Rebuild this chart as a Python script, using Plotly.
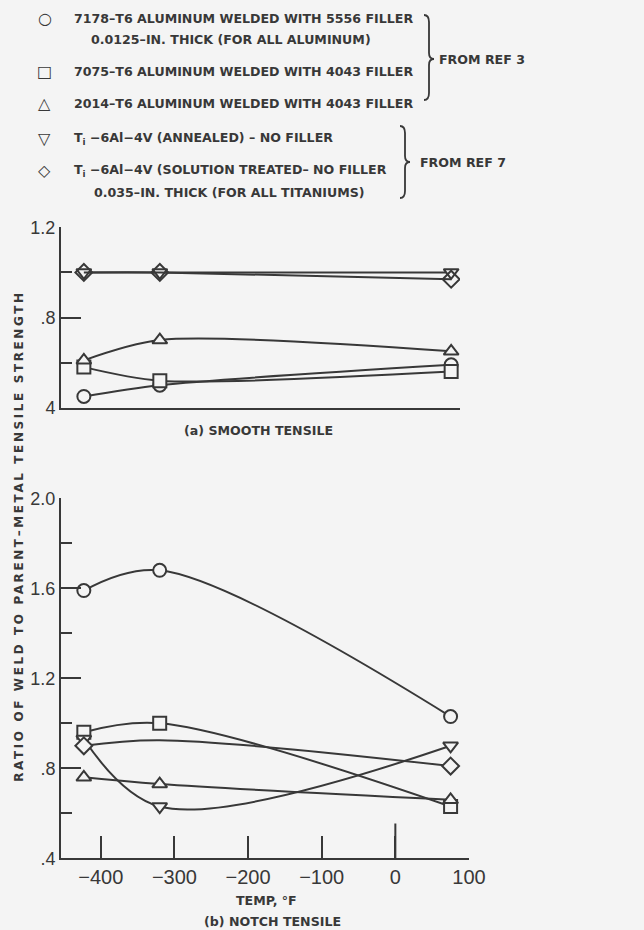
import plotly.graph_objects as go
from plotly.subplots import make_subplots

# ---------------- data ----------------
temps_f = [-423, -320, 75]

series_names = [
    "7178-T6 aluminum / 5556 filler",
    "7075-T6 aluminum / 4043 filler",
    "2014-T6 aluminum / 4043 filler",
    "Ti-6Al-4V annealed",
    "Ti-6Al-4V solution treated",
]
smooth_circle = [0.45, 0.50, 0.59]
smooth_square = [0.58, 0.52, 0.56]
smooth_tri_up = [0.61, 0.70, 0.65]
smooth_tri_down = [1.00, 1.00, 1.00]
smooth_diamond = [1.00, 1.00, 0.97]

notch_circle = [1.59, 1.68, 1.03]
notch_square = [0.96, 1.00, 0.63]
notch_tri_up = [0.76, 0.73, 0.66]
notch_tri_down = [0.93, 0.63, 0.90]
notch_diamond = [0.90, 0.925, 0.81]   # faired curve value at -320 (no test point there)
notch_diamond_points = [0.90, None, 0.81]

top_yticks = [0.4, 0.8, 1.2]
top_yticktext = ["4", ".8", "1.2"]
bot_yticks = [0.4, 0.8, 1.2, 1.6, 2.0]
bot_yticktext = [".4", ".8", "1.2", "1.6", "2.0"]
minor_top = [0.6, 1.0]
minor_bot = [0.6, 1.0, 1.4, 1.8]
xticks = [-400, -300, -200, -100, 0, 100]
xticktext = ["\u2212400", "\u2212300", "\u2212200", "\u2212100", "0", "100"]

# ---------------- style ----------------
W, H = 644, 930
BG = "#f4f4f4"
INK = "#383838"
symbols = ["circle", "square", "triangle-up", "triangle-down", "diamond"]
fills = [BG, BG, BG, BG, "rgba(0,0,0,0)"]

def px(x):
    return x / W

def py(y):
    return 1 - y / H

fig = make_subplots(rows=2, cols=1)

smooth = [smooth_circle, smooth_square, smooth_tri_up, smooth_tri_down, smooth_diamond]
notch = [notch_circle, notch_square, notch_tri_up, notch_tri_down, notch_diamond]

for name, sym, fc, ys in zip(series_names, symbols, fills, smooth):
    fig.add_trace(go.Scatter(
        x=temps_f, y=ys, mode="lines+markers", name=name,
        line=dict(color=INK, width=2, shape="spline", smoothing=0.8),
        marker=dict(symbol=sym, size=13, color=fc, line=dict(color=INK, width=2)),
        showlegend=False), row=1, col=1)

for i, (name, sym, fc, ys) in enumerate(zip(series_names, symbols, fills, notch)):
    if i == 4:
        fig.add_trace(go.Scatter(
            x=temps_f, y=ys, mode="lines", name=name,
            line=dict(color=INK, width=2, shape="spline", smoothing=1.0),
            showlegend=False), row=2, col=1)
        fig.add_trace(go.Scatter(
            x=temps_f, y=notch_diamond_points, mode="markers", name=name,
            marker=dict(symbol=sym, size=13, color=BG, line=dict(color=INK, width=2)),
            showlegend=False), row=2, col=1)
    else:
        fig.add_trace(go.Scatter(
            x=temps_f, y=ys, mode="lines+markers", name=name,
            line=dict(color=INK, width=2, shape="spline", smoothing=1.0),
            marker=dict(symbol=sym, size=13, color=fc, line=dict(color=INK, width=2)),
            showlegend=False), row=2, col=1)

yfont = dict(family="Liberation Sans", size=18, color=INK)
xfont = dict(family="Liberation Sans", size=20, color=INK)

fig.update_layout(
    width=W, height=H, template="none",
    paper_bgcolor=BG, plot_bgcolor=BG,
    margin=dict(l=0, r=0, t=0, b=0),
    showlegend=False,
    xaxis=dict(domain=[px(61), px(460)], range=[-454, 87], showline=True, linecolor=INK,
               linewidth=2, showgrid=False, zeroline=False, ticks="", showticklabels=False,
               automargin=False),
    yaxis=dict(domain=[py(407.7), py(227.3)], range=[0.4, 1.2], showline=True, linecolor=INK,
               linewidth=2, showgrid=False, zeroline=False, ticks="inside", ticklen=20,
               tickwidth=2, tickcolor=INK, tickvals=top_yticks, ticktext=top_yticktext,
               tickfont=yfont, automargin=False,
               minor=dict(tickvals=minor_top, ticks="inside", ticklen=11, tickwidth=2,
                          tickcolor=INK, showgrid=False)),
    xaxis2=dict(domain=[px(61), px(469)], range=[-454, 100], showline=True, linecolor=INK,
                linewidth=2, showgrid=False, zeroline=False, ticks="inside", ticklen=22,
                tickwidth=2, tickcolor=INK, tickvals=xticks, ticktext=xticktext,
                tickfont=xfont, automargin=False, ticklabelstandoff=0),
    yaxis2=dict(domain=[py(858.3), py(498.3)], range=[0.4, 2.0], showline=True, linecolor=INK,
                linewidth=2, showgrid=False, zeroline=False, ticks="inside", ticklen=20,
                tickwidth=2, tickcolor=INK, tickvals=bot_yticks, ticktext=bot_yticktext,
                tickfont=yfont, automargin=False,
                minor=dict(tickvals=minor_bot, ticks="inside", ticklen=11, tickwidth=2,
                           tickcolor=INK, showgrid=False)),
)

# longer tick at 0 deg F
fig.add_shape(type="line", xref="x2", yref="y2", x0=0, x1=0, y0=0.4, y1=0.555,
              line=dict(color=INK, width=2))

# ---------------- text ----------------
def txt(x, y, s, size=12.6, xanchor="left", bold=True):
    f = dict(family="DejaVu Sans", size=size, color=INK, weight="bold" if bold else "normal")
    fig.add_annotation(x=px(x), y=py(y), xref="paper", yref="paper", text=s,
                       showarrow=False, xanchor=xanchor, yanchor="middle", font=f)

legend_rows = [
    ("\u25cb", 19, "7178\u2013T6 ALUMINUM WELDED WITH 5556 FILLER"),
    ("\u25a1", 71.7, "7075\u2013T6 ALUMINUM WELDED WITH 4043 FILLER"),
    ("\u25b3", 103.3, "2014\u2013T6 ALUMINUM WELDED WITH 4043 FILLER"),
    ("\u25bd", 138, "T<sub>i</sub> \u22126Al\u22124V (ANNEALED) \u2013 NO FILLER"),
    ("\u25c7", 170, "T<sub>i</sub> \u22126Al\u22124V (SOLUTION TREATED\u2013 NO FILLER"),
]
for sym, y, s in legend_rows:
    txt(45, y, sym, size=16, xanchor="center", bold=False)
    txt(72, y, s)
txt(89, 40, "0.0125\u2013IN. THICK (FOR ALL ALUMINUM)")
txt(92, 192.7, "0.035\u2013IN. THICK (FOR ALL TITANIUMS)")
txt(437, 59, "FROM REF 3")
txt(418, 162, "FROM REF 7")

def brace(x, y0, ym, y1):
    xs = lambda v: f"{px(v):.5f}"
    ys = lambda v: f"{py(v):.5f}"
    d = (f"M {xs(x-5)},{ys(y0)} Q {xs(x)},{ys(y0)} {xs(x)},{ys(y0+7)} "
         f"L {xs(x)},{ys(ym-6)} Q {xs(x)},{ys(ym)} {xs(x+5)},{ys(ym)} "
         f"Q {xs(x)},{ys(ym)} {xs(x)},{ys(ym+6)} "
         f"L {xs(x)},{ys(y1-7)} Q {xs(x)},{ys(y1)} {xs(x-5)},{ys(y1)}")
    fig.add_shape(type="path", xref="paper", yref="paper", path=d,
                  line=dict(color=INK, width=1.8))

brace(429, 15, 59, 100)
brace(405, 126, 162, 198)

txt(258, 431, "(a) SMOOTH TENSILE", xanchor="center")
txt(266, 900, "TEMP, \u00b0F", xanchor="center")
txt(272, 921.7, "(b) NOTCH TENSILE", xanchor="center")

fig.add_annotation(x=px(19), y=py(536), xref="paper", yref="paper",
                   text="RATIO OF WELD TO PARENT\u2013METAL TENSILE STRENGTH",
                   showarrow=False, textangle=-90, xanchor="center", yanchor="middle",
                   font=dict(family="DejaVu Sans", size=12, color=INK, weight="bold"))

post = """
document.body.style.margin = '0';
document.body.style.background = '%s';
var gd = document.getElementById('{plot_id}');
function spaceTitle() {
  var ts = gd.querySelectorAll('text.annotation-text');
  ts.forEach(function (t) {
    if (t.textContent.indexOf('RATIO OF WELD') === 0) { t.style.letterSpacing = '2.6px'; }
  });
}
spaceTitle();
if (gd.on) { gd.on('plotly_afterplot', spaceTitle); }
""" % BG

fig.write_html("out.html", post_script=post, config={"displayModeBar": False})
